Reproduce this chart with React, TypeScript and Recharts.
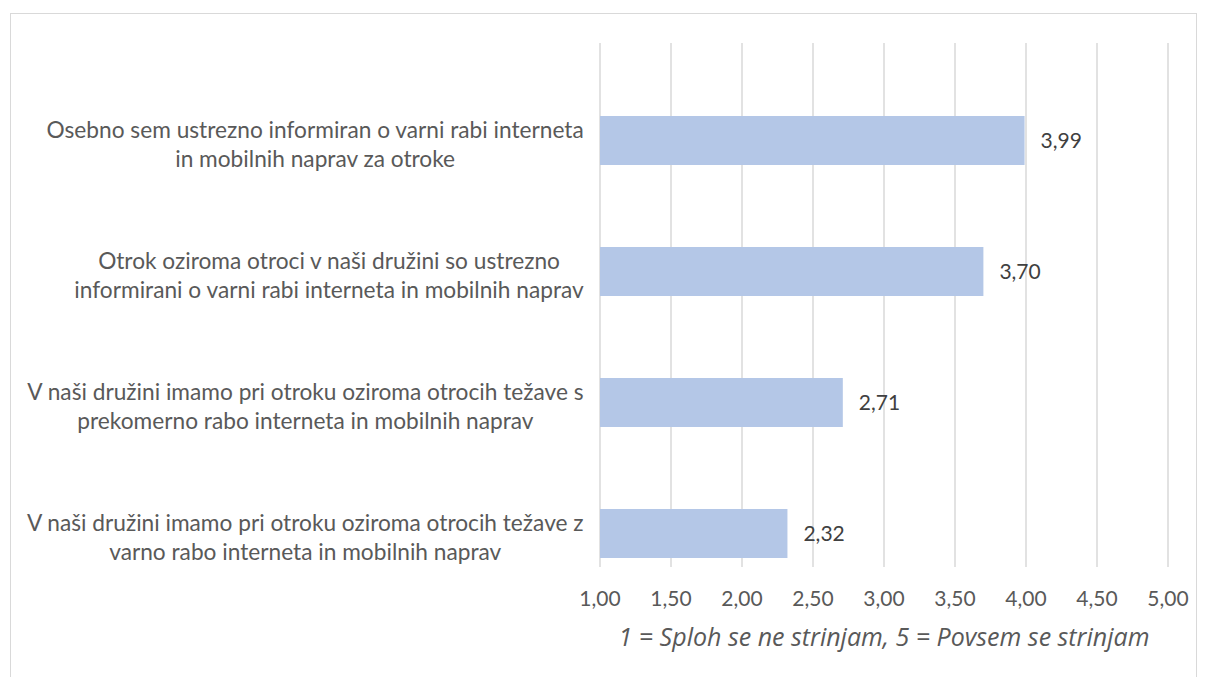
import { BarChart, Bar, XAxis, YAxis, CartesianGrid, LabelList } from "recharts";

const categories = [
  "Osebno sem ustrezno informiran o varni rabi interneta\nin mobilnih naprav za otroke",
  "Otrok oziroma otroci v naši družini so ustrezno\ninformirani o varni rabi interneta in mobilnih naprav",
  "V naši družini imamo pri otroku oziroma otrocih težave s\nprekomerno rabo interneta in mobilnih naprav",
  "V naši družini imamo pri otroku oziroma otrocih težave z\nvarno rabo interneta in mobilnih naprav",
];
const values = [3.99, 3.7, 2.71, 2.32];
const xTicks = [1, 1.5, 2, 2.5, 3, 3.5, 4, 4.5, 5];
const axisTitle = "1 = Sploh se ne strinjam, 5 = Povsem se strinjam";

const data = categories.map((name, i) => ({ name, value: values[i] }));

const FONT = "Lato, sans-serif";
const CAT_SIZE = 22.7;
const LABEL_SIZE = 21;
const TEXT_GREY = "#595959";

const CHART_W = 1185;
const CHART_H = 665;
const PLOT_LEFT = 589;
// gridlines stop short of the bars' band area, like the original
const GRID_TOP = 29;
const GRID_H = 524;

const fmt = (v: number) => v.toFixed(2).replace(".", ",");

let ctx: CanvasRenderingContext2D | null = null;
const measure = (s: string) => {
  if (!ctx) ctx = document.createElement("canvas").getContext("2d");
  ctx!.font = `${CAT_SIZE}px ${FONT}`;
  return ctx!.measureText(s).width;
};

const CategoryTick = (props: any) => {
  const { y, payload } = props;
  const lines = String(payload.value).split("\n");
  const blockW = Math.max(...lines.map(measure));
  const cx = PLOT_LEFT - 16 - blockW / 2;
  const lineH = 29;
  const y0 = y + 3 - ((lines.length - 1) * lineH) / 2;
  return (
    <g>
      {lines.map((line, i) => (
        <text
          key={i}
          x={cx}
          y={y0 + i * lineH}
          textAnchor="middle"
          dominantBaseline="central"
          fill={TEXT_GREY}
          fontSize={CAT_SIZE}
          fontFamily={FONT}
        >
          {line}
        </text>
      ))}
    </g>
  );
};

const ValueTick = (props: any) => {
  const { x, payload } = props;
  return (
    <text
      x={x}
      y={GRID_TOP + GRID_H + 30}
      textAnchor="middle"
      dominantBaseline="central"
      fill={TEXT_GREY}
      fontSize={LABEL_SIZE}
      fontFamily={FONT}
    >
      {fmt(payload.value)}
    </text>
  );
};

export default function App() {
  return (
    <div
      style={{
        width: CHART_W,
        height: CHART_H + 10,
        border: "1px solid #d9d9d9",
        marginLeft: 2,
        marginTop: 5,
        background: "#fff",
      }}
    >
      <BarChart
        width={CHART_W}
        height={CHART_H}
        data={data}
        layout="vertical"
        margin={{ top: GRID_TOP, right: 28, bottom: 0, left: 0 }}
      >
        <CartesianGrid
          horizontal={false}
          stroke="#d9d9d9"
          strokeWidth={1.5}
          y={GRID_TOP}
          height={GRID_H}
        />
        <XAxis
          type="number"
          domain={[1, 5]}
          ticks={xTicks}
          axisLine={false}
          tickLine={false}
          height={80}
          tick={<ValueTick />}
          label={{
            value: axisTitle,
            position: "insideBottom",
            offset: 33,
            fill: TEXT_GREY,
            fontSize: 25,
            fontStyle: "italic",
            fontFamily: "'Open Sans', sans-serif",
          }}
        />
        <YAxis
          type="category"
          dataKey="name"
          width={PLOT_LEFT}
          axisLine={false}
          tickLine={false}
          padding={{ top: 32, bottom: 0 }}
          tick={<CategoryTick />}
          interval={0}
        />
        <Bar dataKey="value" fill="#b4c7e7" barSize={49} isAnimationActive={false}>
          <LabelList
            dataKey="value"
            position="right"
            offset={16}
            formatter={(v: any) => fmt(Number(v))}
            fill="#404040"
            fontSize={LABEL_SIZE}
            fontFamily={FONT}
          />
        </Bar>
      </BarChart>
    </div>
  );
}
